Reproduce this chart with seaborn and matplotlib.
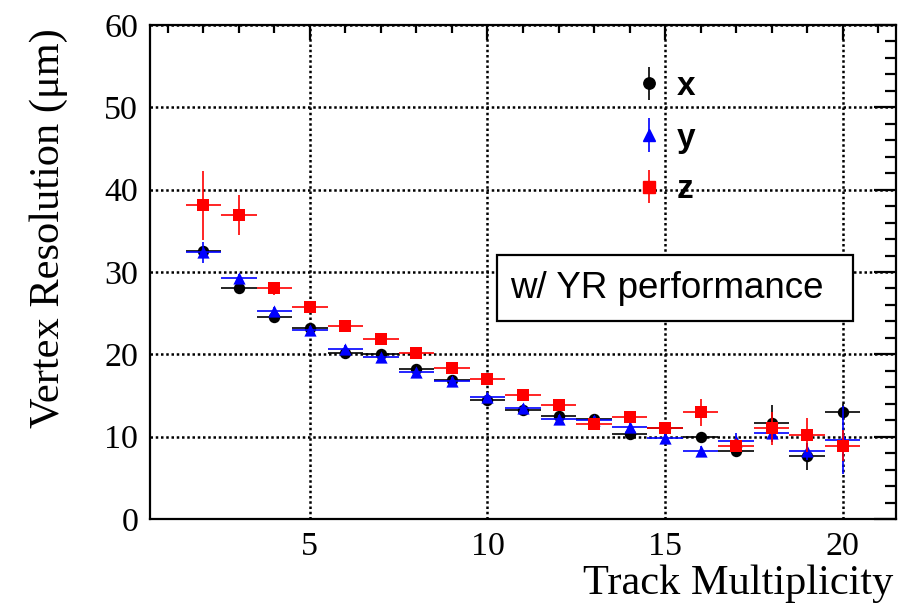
"""
Vertex resolution vs. track multiplicity (x, y, z) with YR performance.
"""

import numpy as np
import pandas as pd
import matplotlib
matplotlib.use("Agg")
import matplotlib.pyplot as plt
from matplotlib.patches import Rectangle
import seaborn as sns


# values
multiplicity = list(range(2, 21))

res_x = [32.6, 28.1, 24.5, 23.2, 20.2, 20.0, 18.2, 16.9, 14.5, 13.2,
         12.5, 12.1, 10.3, 11.0, 9.9, 8.2, 11.6, 7.6, 13.0]
err_x = [0.6, 0.4, 0.4, 0.4, 0.4, 0.4, 0.4, 0.4, 0.5, 0.5,
         0.5, 0.5, 0.5, 0.8, 0.6, 0.6, 2.3, 1.6, 1.0]

res_y = [32.4, 29.3, 25.3, 23.0, 20.7, 19.7, 17.8, 16.8, 14.8, 13.5,
         12.1, 12.0, 11.2, 9.8, 8.3, 9.5, 10.4, 8.2, 9.6]
err_y = [1.3, 0.5, 0.4, 0.4, 0.4, 0.4, 0.4, 0.4, 0.5, 0.5,
         0.5, 0.5, 0.6, 0.6, 0.6, 1.0, 1.0, 1.0, 4.1]

res_z = [38.1, 36.9, 28.0, 25.8, 23.5, 21.9, 20.2, 18.3, 17.0, 15.1,
         13.8, 11.5, 12.35, 11.0, 12.95, 8.9, 11.0, 10.2, 8.9]
err_z = [4.2, 2.4, 0.8, 0.6, 0.5, 0.5, 0.5, 0.5, 0.5, 0.5,
         0.5, 0.5, 0.7, 0.6, 1.6, 0.8, 2.0, 2.1, 1.9]

bin_half_width = 0.5

series_names = ["x", "y", "z"]
series_colors = ["black", "blue", "red"]
series_markers = ["o", "^", "s"]
series_sizes = [8.2, 8.8, 8.2]


def build_frame():

    rows = []
    for name, res, err in zip(series_names,
                              [res_x, res_y, res_z],
                              [err_x, err_y, err_z]):
        for m, r, e in zip(multiplicity, res, err):
            rows.append({"mult": m, "res": r, "err": e, "coord": name})

    return pd.DataFrame(rows)


def plot(df):

    sns.set_style("white")
    plt.rcParams["font.family"] = ["Liberation Serif", "DejaVu Serif"]
    plt.rcParams["text.color"] = "black"
    plt.rcParams["axes.labelcolor"] = "black"
    plt.rcParams["xtick.color"] = "black"
    plt.rcParams["ytick.color"] = "black"

    fig = plt.figure(figsize=(9.03, 6.05), dpi=100)
    ax = fig.add_axes([150 / 903, 1 - 519 / 605, 746 / 903, 494 / 605])

    handles = []
    for i, (name, color, marker, ms) in enumerate(
            zip(series_names, series_colors, series_markers, series_sizes)):

        sub = df[df["coord"] == name]

        ax.errorbar(
            sub["mult"], sub["res"],
            xerr=bin_half_width, yerr=sub["err"],
            fmt="none", ecolor=color, elinewidth=1.2,
            capsize=0, zorder=3 + 2 * i
        )

        sns.scatterplot(
            data=sub, x="mult", y="res", ax=ax,
            color=color, marker=marker, s=ms ** 2,
            edgecolor=color, linewidth=0,
            zorder=4 + 2 * i, legend=False
        )

        # legend proxy with vertical error bar only
        h = ax.errorbar(
            [np.nan], [np.nan], yerr=[1.0],
            fmt=marker, color=color, ecolor=color,
            markersize=ms, elinewidth=1.2, capsize=0
        )
        handles.append(h)

    ax.set_xlim(0.5, 21.5)
    ax.set_ylim(0, 60)

    ax.set_xticks([5, 10, 15, 20])
    ax.set_xticks(range(1, 22), minor=True)
    ax.set_yticks(range(0, 61, 10))
    ax.set_yticks(range(0, 61, 2), minor=True)

    ax.grid(True, which="major", color="black",
            linestyle=(0, (1, 1.1)), linewidth=1.8)

    for side in ["left", "right", "top", "bottom"]:
        ax.spines[side].set_visible(True)
        ax.spines[side].set_color("black")
        ax.spines[side].set_linewidth(1.6)

    ax.tick_params(axis="both", which="both", direction="in",
                   top=True, right=True, colors="black", width=1.6)
    ax.tick_params(axis="y", which="major", length=16)
    ax.tick_params(axis="y", which="minor", length=8)
    ax.tick_params(axis="x", which="major", length=11)
    ax.tick_params(axis="x", which="minor", length=6)
    ax.tick_params(axis="both", which="major", labelsize=24.5)
    ax.tick_params(axis="y", which="major", pad=8.5)
    ax.tick_params(axis="x", which="major", pad=9)

    ax.set_xlabel("")
    ax.set_ylabel("")

    fig.text(
        49 / 903, 1 - 228.5 / 605, "Vertex Resolution (μm)",
        rotation=90, ha="center", va="center", fontsize=30.5,
        color="black"
    )

    fig.text(
        893 / 903, 1 - 594 / 605, "Track Multiplicity",
        ha="right", va="baseline", fontsize=30.5,
        color="black"
    )

    leg = ax.legend(
        handles, series_names,
        loc="upper left", bbox_to_anchor=(0.6287, 0.934),
        frameon=False, handlelength=1.0, handletextpad=0.34,
        labelspacing=0.62, borderaxespad=0,
        prop={"family": "Liberation Sans", "weight": "bold", "size": 24}
    )
    leg.set_zorder(20)
    for t in leg.get_texts():
        t.set_color("black")

    box = Rectangle(
        (0.4651, 0.4008), 0.9424 - 0.4651, 0.5344 - 0.4008,
        transform=ax.transAxes, facecolor="white",
        edgecolor="black", linewidth=1.6, zorder=15
    )
    ax.add_patch(box)

    ax.text(
        0.4826, 0.4676, "w/ YR performance",
        transform=ax.transAxes, ha="left", va="center",
        fontsize=26.5, family="Liberation Sans", color="black",
        zorder=16
    )

    fig.savefig("out.png", dpi=100)
    plt.close(fig)


if __name__ == "__main__":

    data = build_frame()

    plot(data)
